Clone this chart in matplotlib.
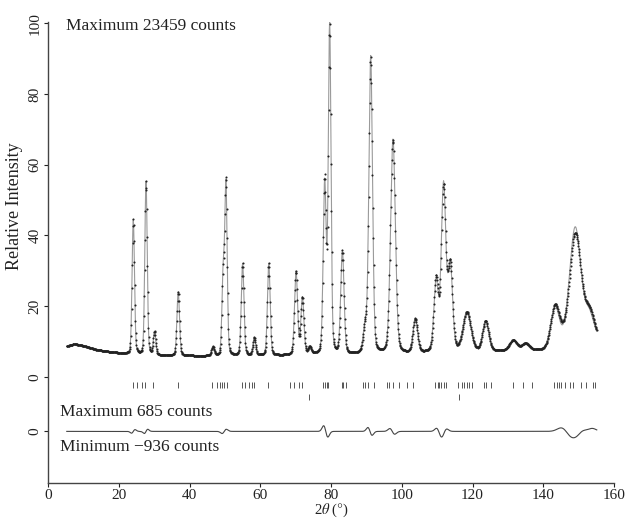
import numpy as np
import matplotlib
matplotlib.use("Agg")
import matplotlib.pyplot as plt

plt.rcParams['font.family'] = ['Liberation Serif', 'DejaVu Serif']
plt.rcParams['mathtext.fontset'] = 'stix'

# ---- data ----
# background knots (2theta, relative intensity)
bg_x = [5.0, 7.5, 10.0, 14.0, 18.0, 22.0, 30.0, 45.0, 60.0, 80.0, 100.0, 115.0, 128.0, 140.0, 156.0]
bg_y = [8.6, 9.3, 8.8, 7.6, 7.0, 6.5, 6.1, 5.9, 6.0, 6.2, 6.5, 7.0, 7.2, 7.3, 10.5]

# Bragg peaks: position, height above background, FWHM
peak_pos = [24.1, 27.7, 30.1, 36.8, 46.6, 49.5, 50.3, 55.0, 58.3, 62.4, 70.1, 71.9, 74.0,
            78.2, 79.6, 83.2, 89.6, 91.2, 97.5, 103.8, 109.7, 111.8, 113.7,
            118.4, 123.7, 131.5, 135.0, 143.3, 149.0, 153.0]
peak_height = [38, 49, 6.5, 18, 2.5, 22, 48, 26, 5, 26, 23.5, 16, 2,
               48, 93, 29, 7, 84, 60.5, 9.5, 19.5, 47, 24,
               11, 8.5, 3, 2, 11.5, 33, 7]
peak_fwhm = [0.8, 0.8, 0.8, 0.85, 0.9, 0.8, 0.8, 0.9, 0.9, 0.9, 1.0, 1.0, 1.0,
             1.0, 0.9, 1.1, 1.2, 1.2, 1.6, 1.5, 1.5, 1.5, 1.5,
             2.6, 2.0, 2.5, 2.5, 2.8, 3.8, 3.0]

# difference-curve features: position, amplitude, width
diff_pos = [24.1, 27.7, 49.8, 78.5, 91.0, 97.3, 110.5, 112.0, 146.5, 150.5, 153.0]
diff_amp = [0.5, 0.6, 0.6, -1.6, -1.1, -0.8, -0.9, 0.7, -1.0, 1.0, 0.6]
diff_wid = [0.5, 0.5, 0.6, 0.6, 0.6, 0.7, 0.7, 0.7, 1.5, 1.5, 1.2]

# reflection markers
ticks_phase1 = [23.9, 25.1, 26.7, 27.4, 29.6, 36.8, 46.3, 47.9, 48.6, 49.3, 49.8, 50.5,
                54.8, 55.7, 56.9, 57.6, 58.2, 62.3, 68.4, 69.6, 70.8, 71.7,
                77.7, 78.3, 78.8, 79.2, 83.0, 83.5, 84.2, 89.0, 89.6, 90.4, 92.0,
                95.7, 96.5, 97.4, 99.3, 101.4, 103.3, 109.4, 110.1, 110.6, 111.1,
                111.8, 112.5, 116.0, 116.9, 117.6, 118.4, 119.1, 119.8, 123.3, 123.7,
                125.1, 131.5, 134.2, 136.7, 143.1, 143.8, 144.5, 145.0, 146.0, 147.6,
                148.5, 150.6, 152.1, 153.9, 154.6]
ticks_phase2 = [73.8, 116.3]

x_start, x_end, x_step = 5.3, 155.2, 0.1
diff_offset = -15.4
xticks = [0, 20, 40, 60, 80, 100, 120, 140, 160]
yticks = [diff_offset, 0, 20, 40, 60, 80, 100]
ytick_labels = ['0', '0', '20', '40', '60', '80', '100']

# ---- profile ----
tt = np.arange(x_start, x_end, x_step)
calc = np.interp(tt, bg_x, bg_y)
eta = 0.2
for p, h, w in zip(peak_pos, peak_height, peak_fwhm):
    g = np.exp(-4 * np.log(2) * (tt - p) ** 2 / w ** 2)
    l = 1.0 / (1 + 4 * (tt - p) ** 2 / w ** 2)
    calc += h * ((1 - eta) * g + eta * l)
diff = np.zeros_like(tt)
for p, a, w in zip(diff_pos, diff_amp, diff_wid):
    u = (tt - p) / w
    diff += a * u * np.exp(0.5 - 0.5 * u ** 2)
obs = calc + diff

fig = plt.figure(figsize=(6.26, 5.21), dpi=100)
ax = fig.add_axes([0.0767, 0.0729, 0.9043, 0.8858])
ink = '#222222'
ax.plot(tt, calc, color='#9a9a9a', lw=0.8, zorder=2)
ax.plot(tt, obs, ls='none', marker='o', ms=1.5, mew=0, color='#222222', zorder=3)
ax.plot(tt, diff + diff_offset, color='#444444', lw=0.8)
ax.vlines(ticks_phase1, -3.2, -1.4, color='#555555', lw=0.7)
ax.vlines(ticks_phase2, -6.6, -4.8, color='#555555', lw=0.7)

ax.set_xlim(0, 160)
ax.set_ylim(-30, 100.5)
for s in ['top', 'right']:
    ax.spines[s].set_visible(False)
for s in ['left', 'bottom']:
    ax.spines[s].set_color('#444444')
    ax.spines[s].set_linewidth(1.0)
ax.set_xticks(xticks)
ax.set_yticks(yticks)
ax.set_yticklabels(ytick_labels, rotation=90, va='center')
ax.tick_params(axis='both', labelsize=11, colors=ink, length=3, width=0.8, pad=1.5)
ax.set_xlabel(r'2$\theta$ ($\degree$)', fontsize=10.5, color=ink, labelpad=-0.5)
ax.set_ylabel('Relative Intensity', fontsize=13, color=ink)
ax.yaxis.set_label_coords(-0.045, 0.60)

ax.text(5.1, 99.3, 'Maximum 23459 counts', fontsize=12.5, color=ink, va='center')
ax.text(3.4, -9.9, 'Maximum 685 counts', fontsize=12.5, color=ink, va='center')
ax.text(3.4, -19.8, 'Minimum \u2212936 counts', fontsize=12.5, color=ink, va='center')

fig.savefig('out.png', dpi=100)
